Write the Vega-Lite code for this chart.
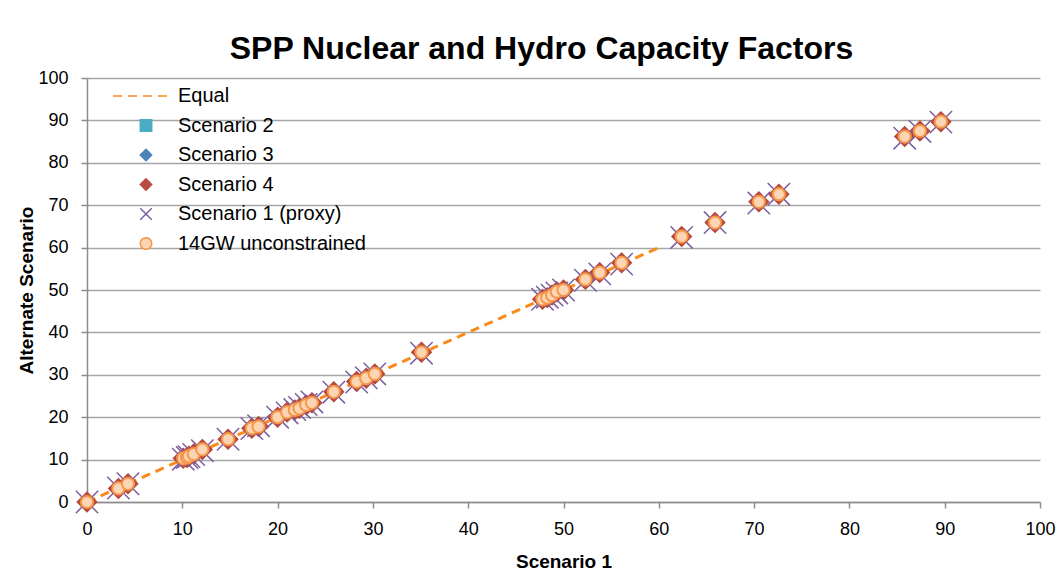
{
  "$schema": "https://vega.github.io/schema/vega-lite/v6.json",
  "width": 953,
  "height": 424,
  "autosize": {"type": "none"},
  "padding": {"left": 87, "top": 78, "right": 21, "bottom": 74},
  "background": "white",
  "title": {"text": "SPP Nuclear and Hydro Capacity Factors", "font": "Liberation Sans", "fontSize": 32, "fontWeight": "bold", "color": "#000000", "offset": 3, "anchor": "middle", "dx": -22},
  "config": {
    "font": "Liberation Sans",
    "view": {"stroke": null},
    "legend": {"orient": "none", "legendX": 49, "legendY": 8, "labelFont": "Liberation Sans", "labelFontSize": 20, "labelColor": "#000000", "labelOffset": 22, "rowPadding": 9.5, "padding": 0, "symbolSize": 130, "labelLimit": 400}
  },
  "datasets": {
    "pts": [
      {"x": 0, "Scenario 2": 0, "Scenario 3": 0, "Scenario 4": 0, "Scenario 1 (proxy)": 0, "14GW unconstrained": 0},
      {"x": 3.3, "Scenario 2": 3.2, "Scenario 3": 3.2, "Scenario 4": 3.2, "Scenario 1 (proxy)": 3.3, "14GW unconstrained": 3.2},
      {"x": 4.3, "Scenario 2": 4.3, "Scenario 3": 4.3, "Scenario 4": 4.3, "Scenario 1 (proxy)": 4.3, "14GW unconstrained": 4.3},
      {"x": 10.1, "Scenario 2": 10.3, "Scenario 3": 10.3, "Scenario 4": 10.3, "Scenario 1 (proxy)": 10.1, "14GW unconstrained": 10.3},
      {"x": 10.5, "Scenario 2": 10.5, "Scenario 3": 10.5, "Scenario 4": 10.5, "Scenario 1 (proxy)": 10.5, "14GW unconstrained": 10.5},
      {"x": 10.7, "Scenario 2": 10.8, "Scenario 3": 10.8, "Scenario 4": 10.8, "Scenario 1 (proxy)": 10.7, "14GW unconstrained": 10.8},
      {"x": 11.2, "Scenario 2": 11.3, "Scenario 3": 11.3, "Scenario 4": 11.3, "Scenario 1 (proxy)": 11.2, "14GW unconstrained": 11.3},
      {"x": 12.1, "Scenario 2": 12.4, "Scenario 3": 12.4, "Scenario 4": 12.4, "Scenario 1 (proxy)": 12.1, "14GW unconstrained": 12.4},
      {"x": 14.8, "Scenario 2": 14.8, "Scenario 3": 14.8, "Scenario 4": 14.8, "Scenario 1 (proxy)": 14.8, "14GW unconstrained": 14.8},
      {"x": 17.3, "Scenario 2": 17.4, "Scenario 3": 17.4, "Scenario 4": 17.4, "Scenario 1 (proxy)": 17.3, "14GW unconstrained": 17.4},
      {"x": 18.0, "Scenario 2": 17.8, "Scenario 3": 17.8, "Scenario 4": 17.8, "Scenario 1 (proxy)": 18.0, "14GW unconstrained": 17.8},
      {"x": 20.0, "Scenario 2": 20.0, "Scenario 3": 20.0, "Scenario 4": 20.0, "Scenario 1 (proxy)": 20.0, "14GW unconstrained": 20.0},
      {"x": 21.0, "Scenario 2": 21.2, "Scenario 3": 21.2, "Scenario 4": 21.2, "Scenario 1 (proxy)": 21.0, "14GW unconstrained": 21.2},
      {"x": 21.8, "Scenario 2": 21.7, "Scenario 3": 21.7, "Scenario 4": 21.7, "Scenario 1 (proxy)": 21.8, "14GW unconstrained": 21.7},
      {"x": 22.3, "Scenario 2": 22.1, "Scenario 3": 22.1, "Scenario 4": 22.1, "Scenario 1 (proxy)": 22.3, "14GW unconstrained": 22.1},
      {"x": 23.0, "Scenario 2": 22.9, "Scenario 3": 22.9, "Scenario 4": 22.9, "Scenario 1 (proxy)": 23.0, "14GW unconstrained": 22.9},
      {"x": 23.6, "Scenario 2": 23.4, "Scenario 3": 23.4, "Scenario 4": 23.4, "Scenario 1 (proxy)": 23.6, "14GW unconstrained": 23.4},
      {"x": 25.9, "Scenario 2": 26.0, "Scenario 3": 26.0, "Scenario 4": 26.0, "Scenario 1 (proxy)": 25.9, "14GW unconstrained": 26.0},
      {"x": 28.3, "Scenario 2": 28.4, "Scenario 3": 28.4, "Scenario 4": 28.4, "Scenario 1 (proxy)": 28.3, "14GW unconstrained": 28.4},
      {"x": 29.3, "Scenario 2": 29.2, "Scenario 3": 29.2, "Scenario 4": 29.2, "Scenario 1 (proxy)": 29.3, "14GW unconstrained": 29.2},
      {"x": 30.2, "Scenario 2": 30.2, "Scenario 3": 30.2, "Scenario 4": 30.2, "Scenario 1 (proxy)": 30.2, "14GW unconstrained": 30.2},
      {"x": 35.1, "Scenario 2": 35.3, "Scenario 3": 35.3, "Scenario 4": 35.3, "Scenario 1 (proxy)": 35.1, "14GW unconstrained": 35.3},
      {"x": 47.8, "Scenario 2": 47.8, "Scenario 3": 47.8, "Scenario 4": 47.8, "Scenario 1 (proxy)": 47.8, "14GW unconstrained": 47.8},
      {"x": 48.3, "Scenario 2": 48.2, "Scenario 3": 48.2, "Scenario 4": 48.2, "Scenario 1 (proxy)": 48.3, "14GW unconstrained": 48.2},
      {"x": 48.8, "Scenario 2": 48.8, "Scenario 3": 48.8, "Scenario 4": 48.8, "Scenario 1 (proxy)": 48.8, "14GW unconstrained": 48.8},
      {"x": 49.3, "Scenario 2": 49.6, "Scenario 3": 49.6, "Scenario 4": 49.6, "Scenario 1 (proxy)": 49.3, "14GW unconstrained": 49.6},
      {"x": 50.0, "Scenario 2": 50.0, "Scenario 3": 50.0, "Scenario 4": 50.0, "Scenario 1 (proxy)": 50.0, "14GW unconstrained": 50.0},
      {"x": 52.3, "Scenario 2": 52.5, "Scenario 3": 52.5, "Scenario 4": 52.5, "Scenario 1 (proxy)": 52.3, "14GW unconstrained": 52.5},
      {"x": 53.8, "Scenario 2": 54.1, "Scenario 3": 54.1, "Scenario 4": 54.1, "Scenario 1 (proxy)": 53.8, "14GW unconstrained": 54.1},
      {"x": 56.1, "Scenario 2": 56.4, "Scenario 3": 56.4, "Scenario 4": 56.4, "Scenario 1 (proxy)": 56.1, "14GW unconstrained": 56.4},
      {"x": 62.4, "Scenario 2": 62.6, "Scenario 3": 62.6, "Scenario 4": 62.6, "Scenario 1 (proxy)": 62.4, "14GW unconstrained": 62.6},
      {"x": 65.9, "Scenario 2": 65.9, "Scenario 3": 65.9, "Scenario 4": 65.9, "Scenario 1 (proxy)": 65.9, "14GW unconstrained": 65.9},
      {"x": 70.5, "Scenario 2": 70.8, "Scenario 3": 70.8, "Scenario 4": 70.8, "Scenario 1 (proxy)": 70.5, "14GW unconstrained": 70.8},
      {"x": 72.6, "Scenario 2": 72.6, "Scenario 3": 72.6, "Scenario 4": 72.6, "Scenario 1 (proxy)": 72.6, "14GW unconstrained": 72.6},
      {"x": 85.8, "Scenario 2": 86.2, "Scenario 3": 86.2, "Scenario 4": 86.2, "Scenario 1 (proxy)": 85.8, "14GW unconstrained": 86.2},
      {"x": 87.4, "Scenario 2": 87.5, "Scenario 3": 87.5, "Scenario 4": 87.5, "Scenario 1 (proxy)": 87.4, "14GW unconstrained": 87.5},
      {"x": 89.6, "Scenario 2": 89.7, "Scenario 3": 89.7, "Scenario 4": 89.7, "Scenario 1 (proxy)": 89.6, "14GW unconstrained": 89.7}
    ],
    "eq": [{"x": 0, "Equal": 0}, {"x": 60, "Equal": 60}]
  },
  "encoding": {
    "x": {
      "field": "x", "type": "quantitative", "title": "Scenario 1",
      "scale": {"domain": [0, 100], "nice": false, "zero": false},
      "axis": {"values": [0, 10, 20, 30, 40, 50, 60, 70, 80, 90, 100], "grid": false, "labelFontSize": 18, "labelColor": "#000000", "labelPadding": 12, "tickSize": 6, "tickColor": "#8c8c8c", "tickWidth": 1.5, "domainColor": "#8c8c8c", "domainWidth": 1.5, "titleFontSize": 19, "titleFontWeight": "bold", "titleColor": "#000000", "titlePadding": 14, "labelFlush": false}
    },
    "y": {
      "field": "value", "type": "quantitative", "title": "Alternate Scenario",
      "scale": {"domain": [0, 100], "nice": false, "zero": false},
      "axis": {"values": [0, 10, 20, 30, 40, 50, 60, 70, 80, 90, 100], "grid": true, "gridColor": "#a6a6a6", "gridWidth": 1.5, "labelFontSize": 18, "labelColor": "#000000", "labelPadding": 13, "tickSize": 6, "tickColor": "#8c8c8c", "tickWidth": 1.5, "domainColor": "#8c8c8c", "domainWidth": 1.5, "titleFontSize": 19, "titleFontWeight": "bold", "titleColor": "#000000", "titlePadding": 1, "labelFlush": false}
    }
  },
  "layer": [
    {
      "data": {"name": "eq"},
      "transform": [{"fold": ["Equal"], "as": ["series", "value"]}],
      "mark": {"type": "line", "strokeWidth": 3, "opacity": 1},
      "encoding": {
        "stroke": {"field": "series", "type": "nominal", "title": null,
          "scale": {"domain": ["Equal", "Scenario 2", "Scenario 3", "Scenario 4", "Scenario 1 (proxy)", "14GW unconstrained"], "range": ["#f98a1b", "#4bacc6", "#4f81bd", "#b94a40", "#7d5fa0", "#f79646"]},
          "legend": {"encode": {"symbols": {"update": {"size": {"value": 130}, "strokeWidth": {"value": 2}, "opacity": {"value": 1}}}}}},
        "strokeDash": {"field": "series", "type": "nominal", "title": null,
          "scale": {"domain": ["Equal", "Scenario 2", "Scenario 3", "Scenario 4", "Scenario 1 (proxy)", "14GW unconstrained"], "range": [[9, 6], [1, 0], [1, 0], [1, 0], [1, 0], [1, 0]]}}
      }
    },
    {
      "data": {"name": "pts"},
      "transform": [{"fold": ["Scenario 2"], "as": ["series", "value"]}],
      "mark": {"type": "point", "filled": true, "size": 81, "strokeWidth": 0, "opacity": 1},
      "encoding": {
        "fill": {"field": "series", "type": "nominal", "title": null,
          "scale": {"domain": ["Equal", "Scenario 2", "Scenario 3", "Scenario 4", "Scenario 1 (proxy)", "14GW unconstrained"], "range": ["transparent", "#4bacc6", "#4f81bd", "#b94a40", "transparent", "#fcd5b4"]}},
        "stroke": {"field": "series", "type": "nominal", "title": null},
        "shape": {"field": "series", "type": "nominal", "title": null,
          "scale": {"domain": ["Equal", "Scenario 2", "Scenario 3", "Scenario 4", "Scenario 1 (proxy)", "14GW unconstrained"], "range": ["M-5.8,0L3.7,0", "square", "diamond", "diamond", "M-1,-1L1,1M1,-1L-1,1", "circle"]}}
      }
    },
    {
      "data": {"name": "pts"},
      "transform": [{"fold": ["Scenario 3"], "as": ["series", "value"]}],
      "mark": {"type": "point", "filled": true, "size": 420, "strokeWidth": 0, "opacity": 1},
      "encoding": {
        "fill": {"field": "series", "type": "nominal", "title": null},
        "stroke": {"field": "series", "type": "nominal", "title": null},
        "shape": {"field": "series", "type": "nominal", "title": null}
      }
    },
    {
      "data": {"name": "pts"},
      "transform": [{"fold": ["Scenario 4"], "as": ["series", "value"]}],
      "mark": {"type": "point", "filled": true, "size": 460, "strokeWidth": 0, "opacity": 1},
      "encoding": {
        "fill": {"field": "series", "type": "nominal", "title": null},
        "stroke": {"field": "series", "type": "nominal", "title": null},
        "shape": {"field": "series", "type": "nominal", "title": null}
      }
    },
    {
      "data": {"name": "pts"},
      "transform": [{"fold": ["Scenario 1 (proxy)"], "as": ["series", "value"]}],
      "mark": {"type": "point", "size": 500, "strokeWidth": 1.5, "opacity": 1},
      "encoding": {
        "fill": {"field": "series", "type": "nominal", "title": null},
        "stroke": {"field": "series", "type": "nominal", "title": null},
        "shape": {"field": "series", "type": "nominal", "title": null}
      }
    },
    {
      "data": {"name": "pts"},
      "transform": [{"fold": ["14GW unconstrained"], "as": ["series", "value"]}],
      "mark": {"type": "point", "filled": true, "size": 150, "strokeWidth": 2, "opacity": 1},
      "encoding": {
        "fill": {"field": "series", "type": "nominal", "title": null},
        "stroke": {"field": "series", "type": "nominal", "title": null},
        "shape": {"field": "series", "type": "nominal", "title": null}
      }
    }
  ]
}
